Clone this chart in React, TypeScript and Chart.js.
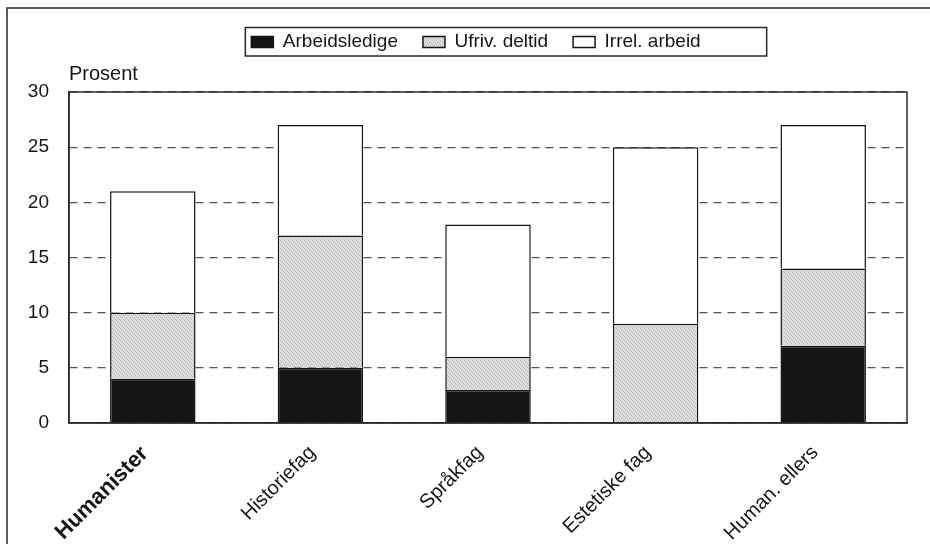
import React, { useEffect, useRef } from "react";
import { Chart, registerables } from "chart.js";

Chart.register(...registerables);

const categories = ["Humanister", "Historiefag", "Språkfag", "Estetiske fag", "Human. ellers"];
const seriesLabels = ["Arbeidsledige", "Ufriv. deltid", "Irrel. arbeid"];
const arbeidsledige = [4, 5, 3, 0, 7];
const ufrivDeltid = [6, 12, 3, 9, 7];
const irrelArbeid = [11, 10, 12, 16, 13];
const yMin = 0;
const yMax = 30;
const yStep = 5;
const yUnitLabel = "Prosent";

const FONT = "'Liberation Sans', Arial, Helvetica, sans-serif";
const INK = "#151515";

function makeStipple(): CanvasPattern | string {
  const c = document.createElement("canvas");
  c.width = 4;
  c.height = 4;
  const g = c.getContext("2d");
  if (!g) return "#d3d3d3";
  g.fillStyle = "#dfdfdf";
  g.fillRect(0, 0, 4, 4);
  g.fillStyle = "#b6b6b6";
  [[0, 0], [2, 1], [1, 2], [3, 3]].forEach(([x, y]) => g.fillRect(x, y, 1, 1));
  return g.createPattern(c, "repeat") || "#d3d3d3";
}

const framePlugin = {
  id: "framePlugin",
  afterLayout(chart: any) {
    const lg = chart.legend;
    if (lg) {
      lg.left += 11.5;
      lg.right += 11.5;
    }
  },
  afterDraw(chart: any) {
    const { ctx, chartArea: a } = chart;
    ctx.save();
    ctx.setLineDash([]);
    ctx.strokeStyle = "#2a2a2a";
    // plot frame
    ctx.lineWidth = 1.5;
    ctx.strokeRect(a.left, a.top, a.right - a.left, a.bottom - a.top);
    // outer page frame
    ctx.lineWidth = 1.5;
    ctx.strokeRect(7, 8, 1000, 1000);
    // legend box
    const hb = chart.legend && chart.legend.legendHitBoxes;
    if (hb && hb.length) {
      const first = hb[0];
      const last = hb[hb.length - 1];
      const cy = first.top + first.height / 2;
      const x0 = first.left - 6;
      const x1 = last.left + last.width + 66;
      ctx.lineWidth = 1.5;
      ctx.strokeRect(x0, cy - 14.5, x1 - x0, 28.5);
    }
    ctx.restore();
  },
};

export default function App() {
  const canvasRef = useRef<HTMLCanvasElement | null>(null);

  useEffect(() => {
    const canvas = canvasRef.current;
    if (!canvas) return;
    const stipple = makeStipple();
    const common = {
      borderColor: INK,
      borderWidth: 1.5,
      barPercentage: 0.51,
      categoryPercentage: 1,
    };
    const chart = new Chart(canvas, {
      type: "bar",
      data: {
        labels: categories,
        datasets: [
          { label: seriesLabels[0], data: arbeidsledige, backgroundColor: INK, ...common },
          { label: seriesLabels[1], data: ufrivDeltid, backgroundColor: stipple as any, ...common },
          { label: seriesLabels[2], data: irrelArbeid, backgroundColor: "#ffffff", ...common },
        ],
      },
      options: {
        animation: false,
        responsive: false,
        maintainAspectRatio: false,
        layout: { padding: { top: 7.5, left: 22, right: 23, bottom: 0 } },
        plugins: {
          legend: {
            display: true,
            position: "top",
            align: "center",
            labels: {
              boxWidth: 22,
              boxHeight: 11,
              padding: 25,
              color: INK,
              font: { family: FONT, size: 19 },
            },
          },
          title: {
            display: true,
            text: yUnitLabel,
            position: "top",
            align: "start",
            fullSize: false,
            weight: 500,
            color: INK,
            font: { family: FONT, size: 20, weight: "normal" },
            padding: { top: 1, bottom: 5.5 },
          } as any,
          tooltip: { enabled: false },
        },
        scales: {
          x: {
            stacked: true,
            afterFit: (scale: any) => {
              scale.height = 121;
            },
            grid: { display: false, drawTicks: false },
            border: { display: true, color: "#2a2a2a", width: 1.5 },
            ticks: {
              autoSkip: false,
              maxRotation: 45,
              minRotation: 45,
              padding: 18,
              labelOffset: -8,
              color: INK,
              font: (ctx: any) =>
                ctx.index === 0
                  ? { family: FONT, size: 22, weight: "bold" }
                  : { family: FONT, size: 20, weight: "normal" },
            },
          },
          y: {
            stacked: true,
            min: yMin,
            max: yMax,
            afterFit: (scale: any) => {
              scale.width = 47;
            },
            grid: { display: true, color: "#555555", lineWidth: 1.3, drawTicks: false },
            border: { display: true, color: "#2a2a2a", width: 1.5, dash: [8, 6] },
            ticks: {
              stepSize: yStep,
              padding: 20,
              color: INK,
              font: { family: FONT, size: 19 },
            },
          },
        },
      },
      plugins: [framePlugin],
    } as any);
    return () => chart.destroy();
  }, []);

  return (
    <div style={{ position: "absolute", left: 0, top: 0, width: 930, height: 544, background: "#fff" }}>
      <canvas ref={canvasRef} width={930} height={544} style={{ width: 930, height: 544, display: "block" }} />
    </div>
  );
}
